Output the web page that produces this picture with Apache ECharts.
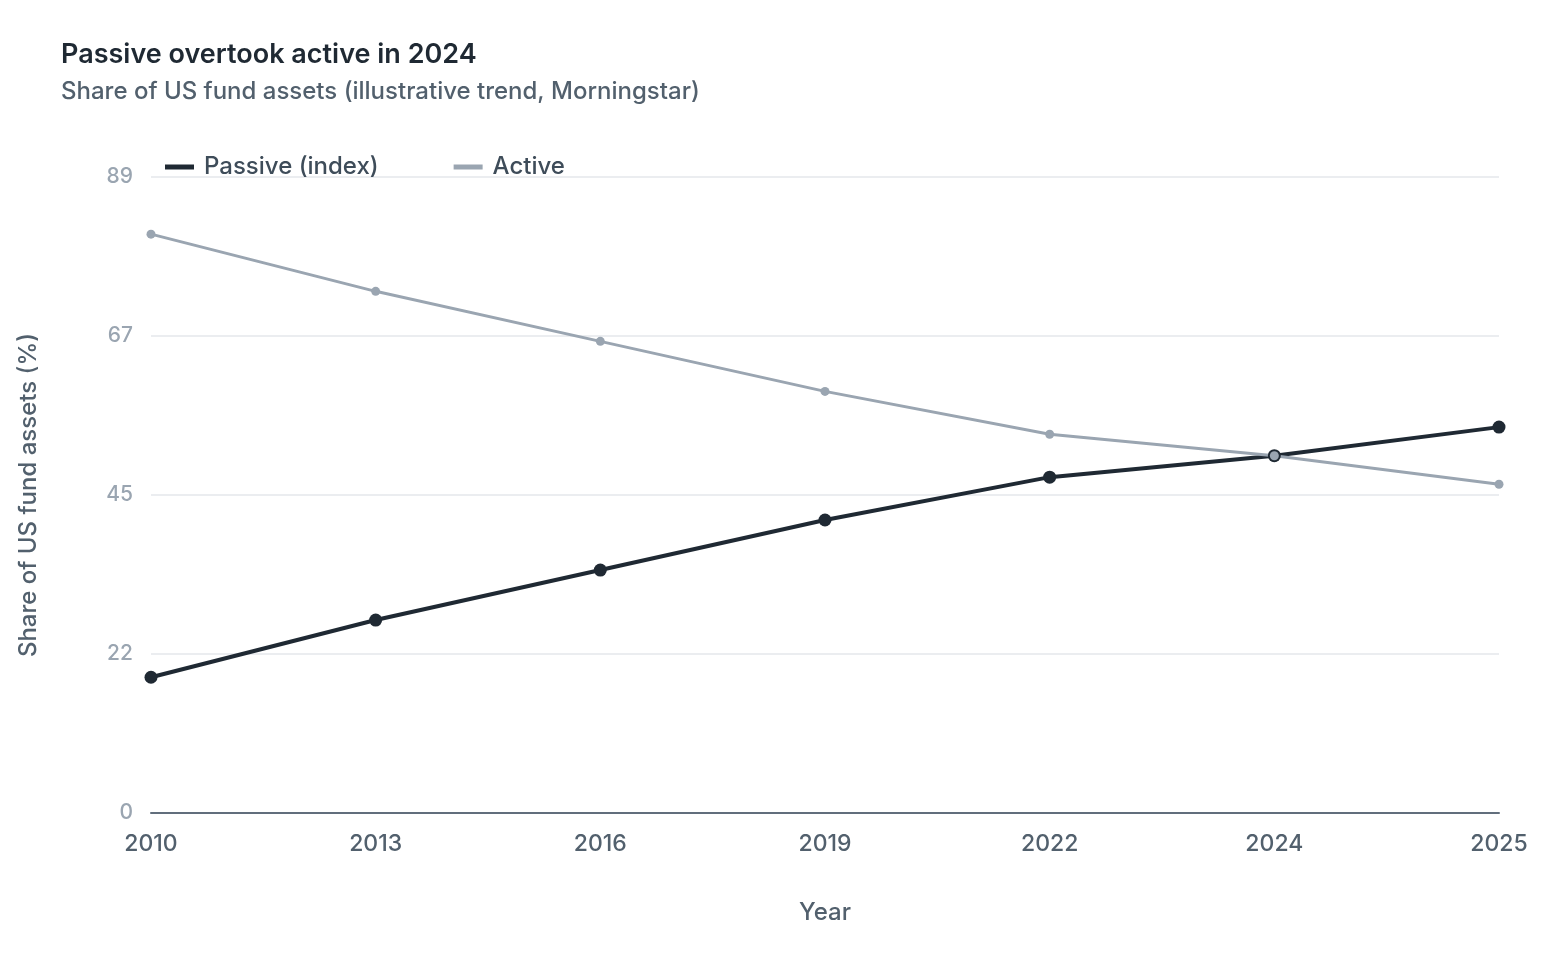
<!DOCTYPE html>
<html>
<head>
<meta charset="utf-8">
<script src="https://cdn.jsdelivr.net/npm/echarts@6/dist/echarts.min.js"></script>
<style>
  html, body { margin: 0; padding: 0; background: #fff; }
  #chart { width: 1560px; height: 953px; }
</style>
</head>
<body>
<div id="chart"></div>
<script>
  var years = ['2010', '2013', '2016', '2019', '2022', '2024', '2025'];
  var passive = [19, 27, 34, 41, 47, 50, 54];
  var active = [81, 73, 66, 59, 53, 50, 46];
  var yTicks = [0, 22.25, 44.5, 66.75, 89];

  var font = 'Inter, "Open Sans", sans-serif';
  var chart = echarts.init(document.getElementById('chart'));
  chart.setOption({
    backgroundColor: '#ffffff',
    textStyle: { fontFamily: font },
    title: {
      text: 'Passive overtook active in 2024',
      subtext: 'Share of US fund assets (illustrative trend, Morningstar)',
      left: 56,
      top: 36,
      itemGap: 12,
      textStyle: { fontFamily: font, fontSize: 27, fontWeight: 600, color: '#1f2933' },
      subtextStyle: { fontFamily: font, fontSize: 24, fontWeight: 500, color: '#52606d' }
    },
    legend: {
      left: 160,
      top: 150,
      itemWidth: 29,
      itemHeight: 5,
      itemGap: 75,
      icon: 'rect',
      textStyle: { fontFamily: font, fontSize: 24, fontWeight: 500, color: '#3e4c59', padding: [0, 0, 0, 5] },
      data: ['Passive (index)', 'Active']
    },
    grid: { left: 151, right: 61, top: 177, bottom: 140 },
    xAxis: {
      type: 'category',
      data: years,
      boundaryGap: false,
      name: 'Year',
      nameLocation: 'middle',
      nameGap: 88,
      nameTextStyle: { fontFamily: font, fontSize: 24, fontWeight: 500, color: '#52606d' },
      axisLine: { lineStyle: { color: '#616e7c', width: 2 } },
      axisTick: { show: false },
      axisLabel: { margin: 20, fontSize: 23, fontWeight: 500, color: '#52606d', fontFamily: font }
    },
    yAxis: {
      type: 'value',
      min: yTicks[0],
      max: yTicks[yTicks.length - 1],
      interval: yTicks[1] - yTicks[0],
      name: 'Share of US fund assets (%)',
      nameLocation: 'middle',
      nameGap: 110,
      nameTextStyle: { fontFamily: font, fontSize: 24, fontWeight: 500, color: '#52606d' },
      axisLine: { show: false },
      axisTick: { show: false },
      axisLabel: {
        margin: 18,
        fontSize: 21,
        fontWeight: 500,
        color: '#9aa5b1',
        fontFamily: font,
        formatter: function (v) { return Math.round(v); }
      },
      splitLine: { lineStyle: { color: '#e4e7eb', width: 1.5 } }
    },
    series: [
      {
        name: 'Passive (index)',
        type: 'line',
        data: passive,
        color: '#1f2933',
        symbol: 'circle',
        symbolSize: 13,
        lineStyle: { width: 4, color: '#1f2933' },
        itemStyle: { color: '#1f2933' }
      },
      {
        name: 'Active',
        type: 'line',
        data: active,
        color: '#9aa5b1',
        symbol: 'circle',
        symbolSize: 9,
        lineStyle: { width: 3, color: '#9aa5b1' },
        itemStyle: { color: '#9aa5b1' }
      }
    ]
  });
</script>
</body>
</html>
